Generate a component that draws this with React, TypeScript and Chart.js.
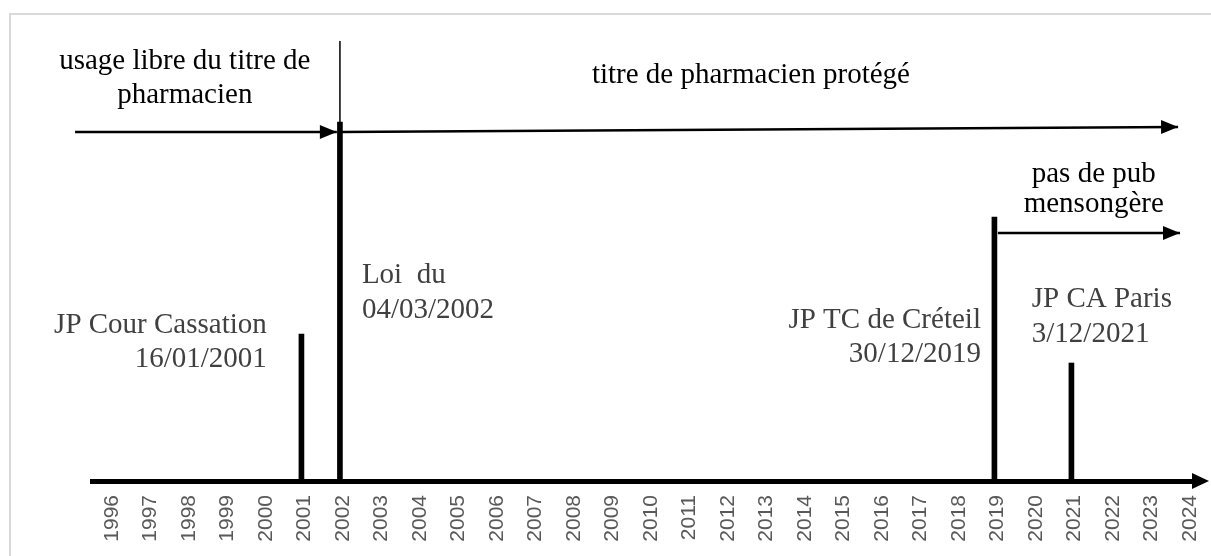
import { useEffect, useRef } from "react";
import { Chart, registerables } from "chart.js";

Chart.register(...registerables);

// ---- Data ----
const years = [
  1996, 1997, 1998, 1999, 2000, 2001, 2002, 2003, 2004, 2005, 2006, 2007, 2008, 2009, 2010,
  2011, 2012, 2013, 2014, 2015, 2016, 2017, 2018, 2019, 2020, 2021, 2022, 2023, 2024,
];

// Event markers (vertical bars): year and relative height
const eventYears = [2001, 2002, 2019, 2021];
const eventHeights = [147, 359, 264, 118];

// Period arrows (start / end in years, height)
const freeUseX = [1995.12, 2001.92];
const freeUseY = [349, 349];
const protectedX = [2002, 2023.77];
const protectedY = [349, 354];
const noFalseAdX = [2019.09, 2023.82];
const noFalseAdY = [248, 248];
const lawLineX = [2002, 2002];
const lawLineY = [349, 440];

// Texts
const freeUseText = ["usage libre du titre de", "pharmacien"];
const protectedText = ["titre de pharmacien protégé"];
const noFalseAdText = ["pas de pub", "mensongère"];
const cassationText = ["JP Cour Cassation", "16/01/2001"];
const lawText = ["Loi  du", "04/03/2002"];
const creteilText = ["JP TC de Créteil", "30/12/2019"];
const parisText = ["JP CA Paris", "3/12/2021"];

// ---- Layout / style config ----
const X_MIN = 1995.56;
const X_MAX = 2024.21;
const Y_MAX = 481;

type Note = { lines: string[]; x: number; ys: number[]; align: CanvasTextAlign; color: string };
const notes: Note[] = [
  { lines: freeUseText, x: 1997.97, ys: [412.5, 378.5], align: "center", color: "#000000" },
  { lines: protectedText, x: 2008.545, ys: [398], align: "left", color: "#000000" },
  { lines: noFalseAdText, x: 2021.58, ys: [299, 269.5], align: "center", color: "#000000" },
  { lines: cassationText, x: 2000.1, ys: [148, 114], align: "right", color: "#404040" },
  { lines: lawText, x: 2002.57, ys: [198, 163], align: "left", color: "#404040" },
  { lines: creteilText, x: 2018.65, ys: [153, 119], align: "right", color: "#404040" },
  { lines: parisText, x: 2019.97, ys: [174, 139], align: "left", color: "#404040" },
];

const toPoints = (xs: number[], ys: number[]) => xs.map((x, i) => ({ x, y: ys[i] }));

const drawHead = (ctx: CanvasRenderingContext2D, tx: number, ty: number, angle: number, len: number, half: number) => {
  ctx.save();
  ctx.translate(tx, ty);
  ctx.rotate(angle);
  ctx.beginPath();
  ctx.moveTo(0, 0);
  ctx.lineTo(-len, -half);
  ctx.lineTo(-len, half);
  ctx.closePath();
  ctx.fillStyle = "#000";
  ctx.fill();
  ctx.restore();
};

const arrowPlugin = {
  id: "arrowHeads",
  afterDatasetsDraw(chart: any) {
    const ctx = chart.ctx as CanvasRenderingContext2D;
    chart.data.datasets.forEach((ds: any, i: number) => {
      if (!ds.arrowHead) return;
      const meta = chart.getDatasetMeta(i);
      const pts = meta.data;
      const a = pts[pts.length - 2];
      const b = pts[pts.length - 1];
      const ang = Math.atan2(b.y - a.y, b.x - a.x);
      drawHead(ctx, b.x, b.y, ang, 17, 7);
    });
    // axis arrow head
    const area = chart.chartArea;
    drawHead(ctx, area.right + 14, area.bottom, 0, 17, 8);
  },
};

const textPlugin = {
  id: "notes",
  afterDraw(chart: any) {
    const ctx = chart.ctx as CanvasRenderingContext2D;
    const xs = chart.scales.x;
    const ys = chart.scales.y;
    ctx.save();
    ctx.font = '29px "Liberation Serif", "Times New Roman", serif';
    ctx.textBaseline = "alphabetic";
    notes.forEach((n) => {
      ctx.fillStyle = n.color;
      ctx.textAlign = n.align;
      n.lines.forEach((line, i) => {
        ctx.fillText(line, xs.getPixelForValue(n.x), ys.getPixelForValue(n.ys[i]));
      });
    });
    ctx.restore();
  },
};

export default function App() {
  const ref = useRef<HTMLCanvasElement | null>(null);

  useEffect(() => {
    if (!ref.current) return;
    const lineDs = (xs: number[], ys: number[], width: number, arrow: boolean) => ({
      type: "line" as const,
      data: toPoints(xs, ys),
      borderColor: "#000",
      borderWidth: width,
      pointRadius: 0,
      fill: false,
      tension: 0,
      clip: false as any,
      arrowHead: arrow,
    });
    const chart = new Chart(ref.current, {
      type: "bar",
      data: {
        datasets: [
          {
            type: "bar",
            data: toPoints(eventYears, eventHeights),
            backgroundColor: "#000",
            barThickness: 5,
            borderWidth: 0,
          } as any,
          lineDs(lawLineX, lawLineY, 1.5, false),
          lineDs(freeUseX, freeUseY, 2.5, true),
          lineDs(protectedX, protectedY, 2.5, true),
          lineDs(noFalseAdX, noFalseAdY, 2.5, true),
        ],
      },
      options: {
        animation: false,
        responsive: false,
        events: [],
        layout: { padding: { left: 92, right: 16, top: 0, bottom: 0 } },
        plugins: { legend: { display: false }, tooltip: { enabled: false } },
        scales: {
          x: {
            type: "linear",
            min: X_MIN,
            max: X_MAX,
            offset: false,
            grid: { display: false, drawTicks: false, offset: false },
            border: { display: true, color: "#000", width: 5 },
            afterBuildTicks: (scale: any) => {
              scale.ticks = years.map((v) => ({ value: v }));
            },
            afterFit: (scale: any) => {
              scale.height = 75;
              scale.paddingLeft = 0;
              scale.paddingRight = 0;
            },
            ticks: {
              autoSkip: false,
              minRotation: 90,
              maxRotation: 90,
              padding: 14,
              labelOffset: 3,
              color: "#595959",
              font: { family: '"Liberation Sans", Arial, sans-serif', size: 21 },
              callback: (v: any) => String(v),
            },
          },
          y: {
            type: "linear",
            display: false,
            min: 0,
            max: Y_MAX,
          },
        },
      },
      plugins: [arrowPlugin, textPlugin],
    } as any);
    return () => chart.destroy();
  }, []);

  return (
    <div style={{ position: "fixed", left: 0, top: 0, width: 1211, height: 556, background: "#fff", overflow: "hidden" }}>
      <div
        style={{
          position: "absolute",
          left: 9,
          top: 13,
          width: 1300,
          height: 700,
          borderLeft: "2px solid #d9d9d9",
          borderTop: "2px solid #d9d9d9",
        }}
      />
      <canvas ref={ref} width={1211} height={556} style={{ position: "absolute", left: 0, top: 0, display: "block" }} />
    </div>
  );
}
